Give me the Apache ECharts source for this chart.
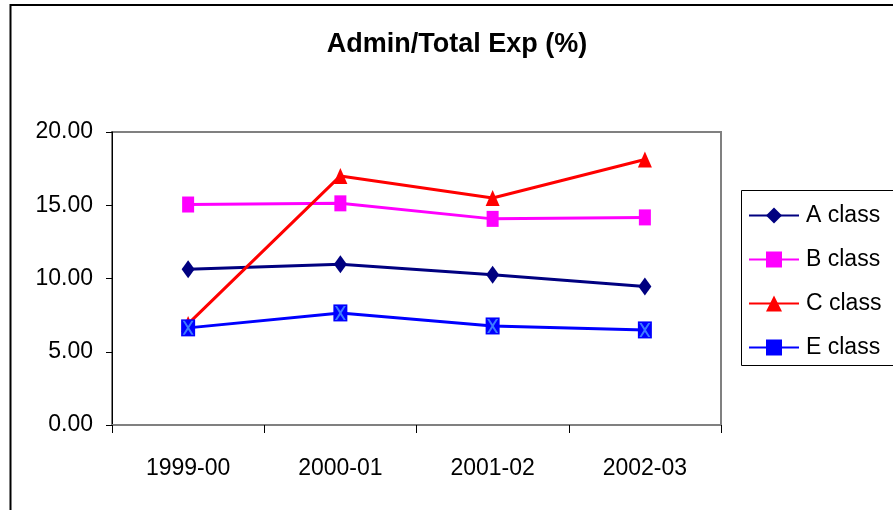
<!DOCTYPE html>
<html>
<head>
<meta charset="utf-8">
<script src="https://cdn.jsdelivr.net/npm/echarts@6/dist/echarts.min.js"></script>
<style>
html,body{margin:0;padding:0;background:#fff;}
#chart{width:893px;height:510px;}
</style>
</head>
<body>
<div id="chart"></div>
<script>
var categories = ['1999-00', '2000-01', '2001-02', '2002-03'];
var aClass = [10.63, 10.97, 10.25, 9.45];
var bClass = [15.05, 15.13, 14.07, 14.17];
var cClass = [6.9, 17.0, 15.5, 18.12];
var eClass = [6.63, 7.65, 6.76, 6.49];
var yTicks = { min: 0, max: 20, interval: 5 };
var seriesNames = ['A class', 'B class', 'C class', 'E class'];

var FONT = 'Liberation Sans, Arial, sans-serif';
var chart = echarts.init(document.getElementById('chart'), null, { renderer: 'canvas' });

var xPath = 'path://M0,0 L2,0 L5,3.6 L8,0 L10,0 L6,5 L10,10 L8,10 L5,6.4 L2,10 L0,10 L4,5 Z';

chart.setOption({
  animation: false,
  backgroundColor: '#ffffff',
  graphic: [
    { type: 'rect', shape: { x: 10.5, y: 5, width: 1000, height: 1000 },
      style: { fill: 'none', stroke: '#000', lineWidth: 2 }, z: 0 },
    { type: 'text', x: 457, y: 45,
      style: { text: 'Admin/Total Exp (%)', fill: '#000', font: 'bold 27px ' + FONT,
               textAlign: 'center', textVerticalAlign: 'middle' } },
    { type: 'rect', shape: { x: 741.5, y: 190.5, width: 200, height: 175 },
      style: { fill: '#fff', stroke: '#000', lineWidth: 1 }, z: 1 }
  ],
  grid: { left: 112, right: 172, top: 132, bottom: 85, show: true,
          borderColor: '#808080', borderWidth: 2, backgroundColor: 'transparent' },
  legend: {
    data: seriesNames,
    orient: 'vertical',
    left: 743, top: 199,
    itemWidth: 50, itemHeight: 20, itemGap: 21,
    textStyle: { fontSize: 23, fontFamily: FONT, color: '#000', padding: [0,0,0,2] },
    z: 5
  },
  xAxis: {
    type: 'category',
    data: categories,
    boundaryGap: true,
    axisLine: { lineStyle: { color: '#808080', width: 2 } },
    axisTick: { show: true, length: 8, lineStyle: { color: '#000', width: 1 } },
    axisLabel: { fontSize: 23, fontFamily: FONT, color: '#000', margin: 32 },
    splitLine: { show: false }
  },
  yAxis: {
    type: 'value',
    min: yTicks.min, max: yTicks.max, interval: yTicks.interval,
    axisLine: { show: true, lineStyle: { color: '#000', width: 1 } },
    axisTick: { show: true, length: 6, lineStyle: { color: '#000' } },
    axisLabel: { fontSize: 23, fontFamily: FONT, color: '#000', margin: 19,
                 formatter: function (v) { return v.toFixed(2); } },
    splitLine: { show: false }
  },
  series: [
    { name: 'A class', type: 'line', data: aClass, symbol: 'diamond', symbolSize: [13, 18],
      lineStyle: { color: '#000080', width: 3 }, itemStyle: { color: '#000080' } },
    { name: 'B class', type: 'line', data: bClass, symbol: 'rect', symbolSize: [12, 16],
      lineStyle: { color: '#FF00FF', width: 3 }, itemStyle: { color: '#FF00FF' } },
    { name: 'C class', type: 'line', data: cClass, symbol: 'triangle', symbolSize: [14, 16],
      lineStyle: { color: '#FF0000', width: 3 }, itemStyle: { color: '#FF0000' } },
    { name: 'E class', type: 'line', data: eClass, symbol: 'rect', symbolSize: [14, 17],
      lineStyle: { color: '#0000FF', width: 3 }, itemStyle: { color: '#0000FF' } },
    { name: 'E class marks', type: 'line', data: eClass, symbol: xPath, symbolSize: [11, 14],
      lineStyle: { width: 0, opacity: 0 }, itemStyle: { color: '#3D7BFF' }, silent: true, z: 3 }
  ]
});
</script>
</body>
</html>
